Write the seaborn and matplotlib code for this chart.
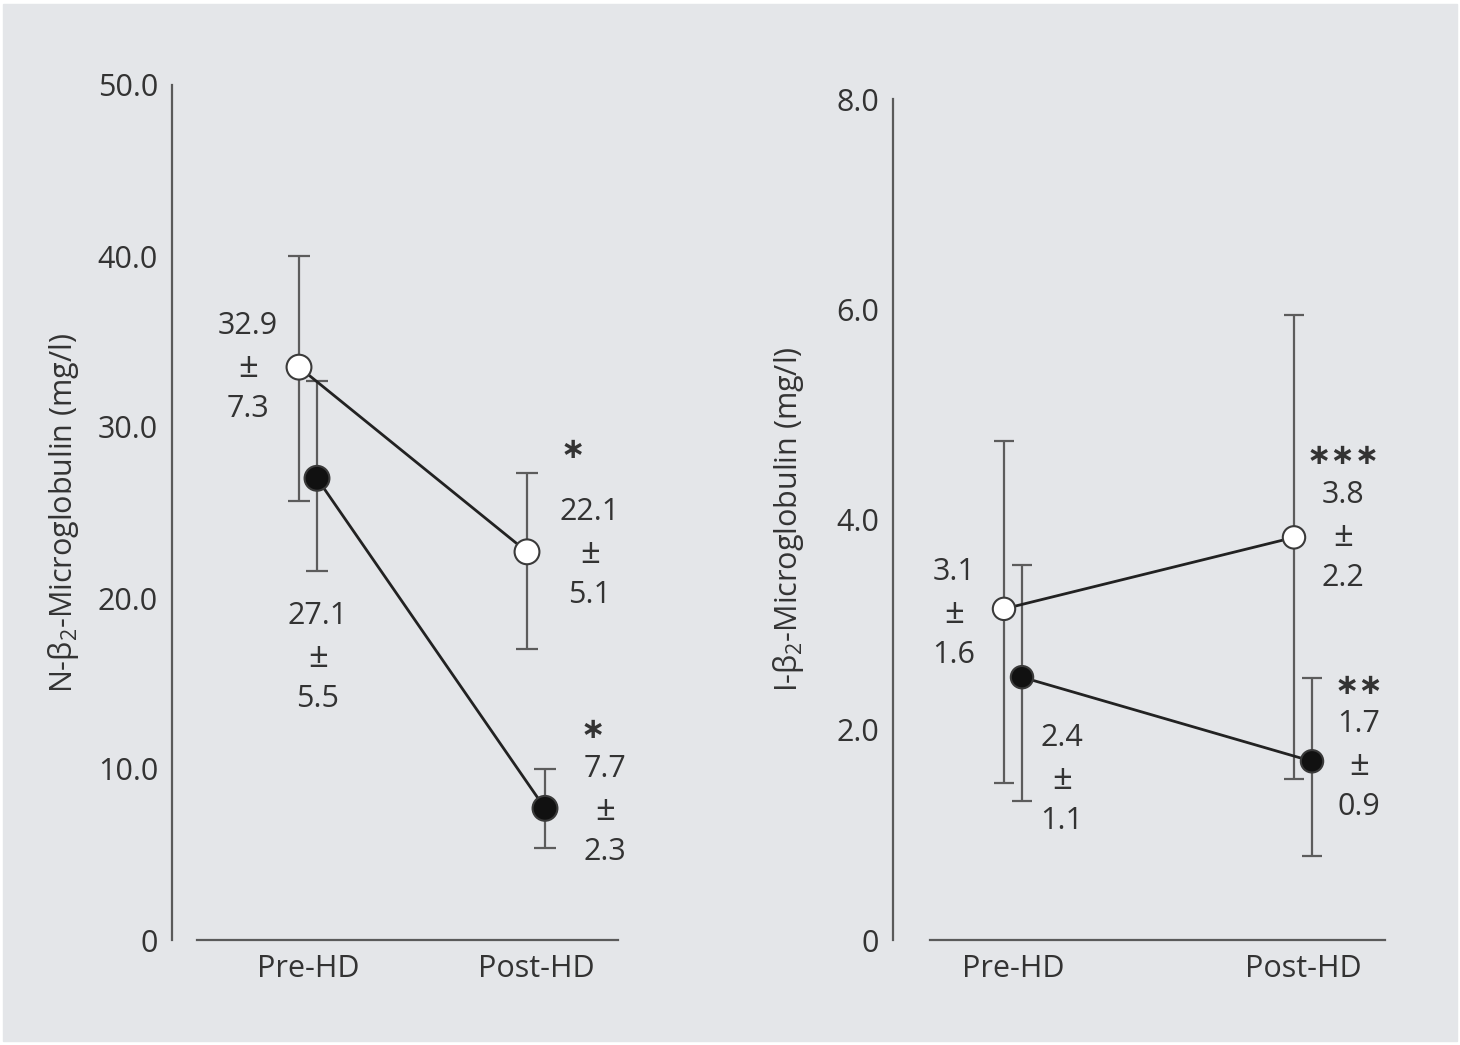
import matplotlib
matplotlib.use("Agg")
import numpy as np
import pandas as pd
import matplotlib.pyplot as plt
import seaborn as sns
from matplotlib.patches import Rectangle

# ---- data ----
phases = ["Pre-HD", "Post-HD"]

# N-beta2 microglobulin (left panel); open / filled circles
n_open_mean = [33.5, 22.7]
n_open_low = [25.7, 17.0]
n_open_high = [40.0, 27.3]
n_fill_mean = [27.0, 7.7]
n_fill_low = [21.6, 5.4]
n_fill_high = [32.7, 10.0]
n_open_text = [("32.9", "7.3"), ("22.1", "5.1")]
n_fill_text = [("27.1", "5.5"), ("7.7", "2.3")]
n_open_stars = ["", "*"]
n_fill_stars = ["", "*"]

# I-beta2 microglobulin (right panel)
i_open_mean = [3.15, 3.83]
i_open_low = [1.49, 1.53]
i_open_high = [4.75, 5.95]
i_fill_mean = [2.50, 1.70]
i_fill_low = [1.32, 0.80]
i_fill_high = [3.57, 2.49]
i_open_text = [("3.1", "1.6"), ("3.8", "2.2")]
i_fill_text = [("2.4", "1.1"), ("1.7", "0.9")]
i_open_stars = ["", "***"]
i_fill_stars = ["", "**"]

n_ticks = [0, 10, 20, 30, 40, 50]
n_ticklabels = ["0", "10.0", "20.0", "30.0", "40.0", "50.0"]
i_ticks = [0, 2, 4, 6, 8]
i_ticklabels = ["0", "2.0", "4.0", "6.0", "8.0"]

# ---- style ----
BG = "#e4e6e9"
INK = "#222222"
BAR = "#5c5c5c"
SPINE = "#5a5a5a"
TXT = "#333333"
FS = 22

sns.set_theme(style="white")
plt.rcParams["font.family"] = ["Open Sans", "DejaVu Sans"]
plt.rcParams["mathtext.fontset"] = "custom"
plt.rcParams["mathtext.rm"] = "Open Sans"
plt.rcParams["mathtext.it"] = "Open Sans:italic"

W, H = 1460, 1045
fig = plt.figure(figsize=(W / 100, H / 100), dpi=100, facecolor="white")
fig.patches.append(Rectangle((3 / W, 4 / H), 1 - 6 / W, 1 - 8 / H,
                             transform=fig.transFigure, color=BG, zorder=-10))


def make_frame(mean_o, low_o, high_o, mean_f, low_f, high_f, dodge):
    rows = []
    for grp, mean, low, high, sgn in [("open", mean_o, low_o, high_o, -1),
                                      ("filled", mean_f, low_f, high_f, 1)]:
        for k, ph in enumerate(phases):
            rows.append(dict(group=grp, phase=ph, x=k + sgn * dodge,
                             mean=mean[k], low=low[k], high=high[k]))
    return pd.DataFrame(rows)


def draw_panel(rect_px, xpix, df, ylim, ticks, ticklabels, ylabel, msize, cap,
               texts, stars, offsets, label_x):
    left, right, bottom, top, x_start = rect_px
    ax = fig.add_axes([left / W, 1 - bottom / H, (right - left) / W, (bottom - top) / H])
    ax.set_facecolor("none")
    unit = xpix[1] - xpix[0]
    x0 = (left - xpix[0]) / unit
    x1 = (right - xpix[0]) / unit
    ax.set_xlim(x0, x1)
    ax.set_ylim(*ylim)

    for grp, g in df.groupby("group", sort=False):
        ax.errorbar(g["x"], g["mean"], yerr=[g["mean"] - g["low"], g["high"] - g["mean"]],
                    fmt="none", ecolor=BAR, elinewidth=1.6, capsize=cap, capthick=1.6,
                    zorder=1)
    sns.lineplot(data=df, x="x", y="mean", units="group", estimator=None, sort=False,
                 color=INK, lw=2, ax=ax, zorder=2, legend=False)
    sns.scatterplot(data=df, x="x", y="mean", hue="group",
                    palette={"open": "white", "filled": "#111111"},
                    edgecolor="#3a3a3a", linewidth=1.5, s=msize, ax=ax,
                    zorder=4, legend=False)

    for (grp, k), (dx, dy), sdx, sdy in offsets:
        row = df[(df.group == grp) & (df.phase == phases[k])].iloc[0]
        num, sd = texts[grp][k]
        lines = [(num, -42), ("±", 0), (sd, 41)]
        for s, ly in lines:
            ax.annotate(s, xy=(row.x, row["mean"]), xytext=(dx, -(dy + ly)),
                        textcoords="offset pixels", ha="center", va="center",
                        fontsize=FS + (3 if s == "±" else 0), color=TXT)
        star = stars[grp][k]
        if star:
            ax.annotate(star.replace("*", "∗"), xy=(row.x, row["mean"]),
                        xytext=(sdx, -sdy), textcoords="offset pixels",
                        ha="center", va="center", fontsize=21, color=TXT,
                        family="DejaVu Sans", fontweight="bold")

    sns.despine(ax=ax)
    for sp in ["left", "bottom"]:
        ax.spines[sp].set_color(SPINE)
        ax.spines[sp].set_linewidth(1.6)
    ax.spines["bottom"].set_bounds((x_start - xpix[0]) / unit, x1)
    ax.set_xticks([0, 1], phases)
    ax.set_yticks(ticks, ticklabels)
    ax.tick_params(axis="both", direction="in", length=7, width=1.2, color=SPINE,
                   labelsize=FS, labelcolor=TXT)
    ax.tick_params(axis="y", pad=10)
    ax.tick_params(axis="x", pad=10)
    ax.set_xlabel("")
    ax.set_ylabel(ylabel, fontsize=22, color=TXT)
    ax.yaxis.set_label_coords((label_x - left) / (right - left), 0.5)
    return ax


# left panel
n_df = make_frame(n_open_mean, n_open_low, n_open_high,
                  n_fill_mean, n_fill_low, n_fill_high, dodge=9 / 228)
draw_panel((172, 618, 940, 85, 197), (308, 536), n_df, (0, 50), n_ticks, n_ticklabels,
           "N-β$_2$-Microglobulin (mg/l)", 320, 7.8,
           {"open": n_open_text, "filled": n_fill_text},
           {"open": n_open_stars, "filled": n_fill_stars},
           [(("open", 0), (-51, 1), 0, 0),
            (("filled", 0), (1, 180), 0, 0),
            (("open", 1), (63, 2), 46, -102),
            (("filled", 1), (60, 3), 48, -78)],
           label_x=81)

# right panel
i_df = make_frame(i_open_mean, i_open_low, i_open_high,
                  i_fill_mean, i_fill_low, i_fill_high, dodge=9 / 290)
draw_panel((893, 1385, 940, 99, 930), (1013, 1303), i_df, (0, 8), i_ticks, i_ticklabels,
           "I-β$_2$-Microglobulin (mg/l)", 260, 7.0,
           {"open": i_open_text, "filled": i_fill_text},
           {"open": i_open_stars, "filled": i_fill_stars},
           [(("open", 0), (-50, 5), 0, 0),
            (("filled", 0), (40, 103), 0, 0),
            (("open", 1), (49, 0), 49, -81),
            (("filled", 1), (47, 5), 47, -75)],
           label_x=806)

fig.savefig("out.png", dpi=100, facecolor=fig.get_facecolor())
